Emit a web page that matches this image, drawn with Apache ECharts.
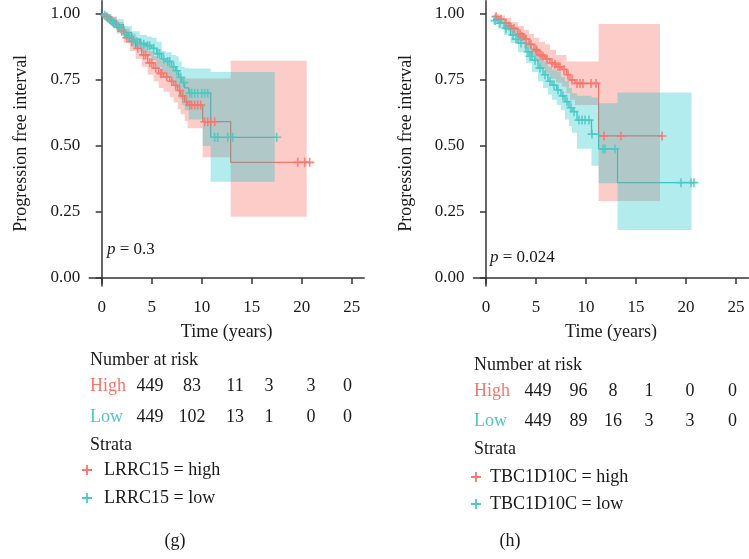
<!DOCTYPE html>
<html>
<head>
<meta charset="utf-8">
<script src="https://cdn.jsdelivr.net/npm/echarts@6/dist/echarts.min.js"></script>
<style>html,body{margin:0;padding:0;background:#fff}#c{width:749px;height:559px}</style>
</head>
<body>
<div id="c"></div>
<script>
// ---------- DATA ----------
const timeTicks = [0, 5, 10, 15, 20, 25];
const survTicks = [0, 0.25, 0.5, 0.75, 1];

// Panel (g): LRRC15
const gHighCurve = [[0,1.0],[0.4,0.99],[0.9,0.975],[1.5,0.95],[2.2,0.92],[2.8,0.895],[3.4,0.87],[4.0,0.845],[4.6,0.815],[5.2,0.795],[5.7,0.775],[6.2,0.762],[6.8,0.745],[7.2,0.73],[7.6,0.71],[7.9,0.69],[8.3,0.668],[8.6,0.655],[10.1,0.592],[12.9,0.438],[20.8,0.438]];
const gHighBand = [[0,0.99,1.0],[0.4,0.975,1.0],[0.9,0.955,0.99],[1.5,0.925,0.97],[2.2,0.89,0.945],[2.8,0.86,0.925],[3.4,0.83,0.905],[4.0,0.80,0.885],[4.6,0.77,0.86],[5.2,0.745,0.84],[5.7,0.72,0.825],[6.2,0.705,0.815],[6.8,0.685,0.80],[7.2,0.665,0.79],[7.6,0.64,0.775],[7.9,0.62,0.76],[8.3,0.595,0.756],[8.6,0.567,0.756],[10.1,0.457,0.756],[12.9,0.232,0.823],[20.5,0.232,0.823]];
const gHighCensor = [[0.5,0.99],[1.0,0.975],[1.2,0.965],[1.7,0.95],[2.0,0.935],[2.5,0.91],[3.0,0.895],[3.6,0.87],[4.2,0.845],[4.4,0.845],[4.8,0.815],[5.0,0.815],[5.4,0.795],[5.9,0.775],[6.0,0.775],[6.5,0.762],[7.0,0.745],[7.4,0.73],[7.8,0.71],[8.1,0.69],[8.5,0.668],[8.8,0.655],[9.0,0.655],[9.3,0.655],[9.6,0.655],[9.9,0.655],[10.3,0.592],[10.6,0.592],[10.9,0.592],[11.3,0.592],[19.6,0.438],[20.3,0.438],[20.8,0.438]];
const gLowCurve = [[0,1.0],[0.4,0.99],[0.9,0.975],[1.4,0.96],[2.2,0.93],[3.0,0.905],[3.8,0.89],[4.5,0.88],[5.0,0.87],[5.5,0.85],[6.0,0.83],[6.4,0.82],[7.0,0.80],[7.4,0.785],[7.7,0.76],[8.0,0.74],[8.3,0.72],[8.7,0.70],[10.9,0.533],[17.5,0.533]];
const gLowBand = [[0,0.99,1.0],[0.5,0.975,1.0],[1.0,0.955,0.99],[1.5,0.94,0.98],[2.2,0.905,0.955],[3.0,0.875,0.935],[3.8,0.855,0.92],[4.5,0.84,0.915],[5.0,0.825,0.91],[5.5,0.80,0.895],[6.0,0.775,0.86],[6.4,0.76,0.855],[7.0,0.74,0.845],[7.4,0.72,0.84],[7.7,0.68,0.82],[8.0,0.655,0.80],[8.3,0.635,0.795],[8.7,0.60,0.794],[10.1,0.50,0.794],[10.9,0.365,0.78],[17.3,0.365,0.78]];
const gLowCensor = [[0.3,0.995],[0.6,0.985],[0.8,0.978],[1.1,0.97],[1.3,0.963],[1.6,0.955],[1.9,0.945],[2.4,0.925],[2.7,0.915],[3.2,0.9],[3.5,0.895],[3.9,0.89],[4.2,0.885],[4.6,0.88],[4.8,0.88],[5.2,0.87],[5.6,0.85],[5.8,0.85],[6.2,0.83],[6.6,0.82],[6.8,0.82],[7.2,0.8],[7.5,0.785],[7.9,0.76],[8.2,0.74],[8.8,0.70],[9.0,0.70],[9.3,0.70],[9.6,0.70],[10.0,0.70],[10.3,0.70],[10.6,0.70],[11.3,0.533],[11.6,0.533],[12.6,0.533],[13.1,0.533],[17.5,0.533]];

// Panel (h): TBC1D10C
const hHighCurve = [[0.8,0.99],[1.3,0.98],[1.9,0.965],[2.5,0.945],[3.2,0.925],[3.8,0.905],[4.3,0.885],[4.8,0.865],[5.3,0.845],[5.9,0.83],[6.4,0.815],[7.0,0.80],[7.6,0.79],[8.05,0.77],[8.4,0.75],[8.9,0.737],[11.26,0.538],[17.6,0.538]];
const hHighBand = [[0.8,0.975,1.0],[1.3,0.965,0.995],[1.9,0.945,0.985],[2.5,0.92,0.97],[3.2,0.895,0.955],[3.8,0.87,0.94],[4.3,0.845,0.925],[4.8,0.82,0.91],[5.3,0.795,0.895],[5.9,0.775,0.885],[6.4,0.755,0.865],[7.0,0.74,0.845],[7.6,0.725,0.845],[8.05,0.70,0.82],[8.4,0.675,0.82],[8.9,0.655,0.82],[11.26,0.292,0.962],[17.4,0.292,0.962]];
const hHighCensor = [[1.0,0.99],[1.5,0.98],[2.0,0.965],[2.3,0.955],[2.8,0.945],[3.4,0.925],[3.6,0.915],[4.0,0.905],[4.5,0.885],[5.0,0.865],[5.1,0.86],[5.5,0.845],[5.7,0.84],[6.1,0.83],[6.6,0.815],[6.9,0.81],[7.2,0.80],[7.4,0.80],[7.8,0.79],[8.2,0.77],[8.6,0.75],[9.1,0.737],[9.4,0.737],[9.7,0.737],[10.5,0.737],[11.0,0.737],[11.8,0.538],[13.5,0.538],[17.6,0.538]];
const hLowCurve = [[0.7,0.98],[1.2,0.965],[1.8,0.945],[2.45,0.92],[3.2,0.89],[4.0,0.857],[4.6,0.825],[5.2,0.795],[5.7,0.77],[6.2,0.745],[6.6,0.73],[7.07,0.712],[7.5,0.69],[7.9,0.668],[8.3,0.645],[8.6,0.63],[9.1,0.598],[10.55,0.545],[11.26,0.489],[13.15,0.361],[20.8,0.361]];
const hLowBand = [[0.7,0.96,0.995],[1.2,0.945,0.985],[1.8,0.92,0.97],[2.45,0.89,0.95],[3.2,0.855,0.925],[4.0,0.815,0.895],[4.6,0.78,0.87],[5.2,0.745,0.845],[5.7,0.72,0.82],[6.2,0.695,0.80],[6.6,0.675,0.79],[7.07,0.655,0.78],[7.5,0.635,0.76],[7.9,0.60,0.745],[8.3,0.575,0.72],[8.6,0.55,0.70],[9.1,0.49,0.69],[10.55,0.425,0.684],[11.26,0.359,0.662],[13.15,0.182,0.703],[20.56,0.182,0.703]];
const hLowCensor = [[0.9,0.975],[1.4,0.965],[2.0,0.945],[2.7,0.92],[3.0,0.905],[3.5,0.89],[4.2,0.857],[4.4,0.84],[4.9,0.825],[5.4,0.795],[5.9,0.77],[6.4,0.745],[6.8,0.73],[7.2,0.712],[7.7,0.69],[8.1,0.668],[8.5,0.645],[8.8,0.63],[9.3,0.598],[9.6,0.598],[9.9,0.598],[10.3,0.598],[10.6,0.545],[11.7,0.489],[11.9,0.489],[12.9,0.489],[19.5,0.361],[20.5,0.361],[20.8,0.361]];

// Number at risk tables
const riskGHigh = [449, 83, 11, 3, 3, 0];
const riskGLow  = [449, 102, 13, 1, 0, 0];
const riskHHigh = [449, 96, 8, 1, 0, 0];
const riskHLow  = [449, 89, 16, 3, 3, 0];

const pValueG = '0.3';
const pValueH = '0.024';
const strataG = ['LRRC15 = high', 'LRRC15 = low'];
const strataH = ['TBC1D10C = high', 'TBC1D10C = low'];
const groupLabels = ['High', 'Low'];
const captions = ['(g)', '(h)'];

// ---------- STYLE / LAYOUT ----------
const RED = '#F8766D', TEAL = '#4CC9C4', TEAL_BAND = '#00BFC4';
const FONT = '"Liberation Serif", "DejaVu Serif", serif';
const TXT = '#1a1a1a';
const colsG = [150, 192, 235, 269, 311, 347.5];
const colsH = [538, 578.5, 613, 649, 690, 732.5];
const plus = 'path://M4.1,0H5.9V4.1H10V5.9H5.9V10H4.1V5.9H0V4.1H4.1Z';

function bandSeries(arr, color, opacity, idx) {
  return {
    type: 'custom', xAxisIndex: idx, yAxisIndex: idx, silent: true, z: 3,
    data: arr, encode: { x: 0, y: [1, 2] },
    renderItem: function (params, api) {
      if (params.dataIndex !== 0) return null;
      const pts = [];
      for (let i = 0; i < arr.length - 1; i++) {
        pts.push(api.coord([arr[i][0], arr[i][2]]), api.coord([arr[i + 1][0], arr[i][2]]));
      }
      for (let i = arr.length - 2; i >= 0; i--) {
        pts.push(api.coord([arr[i + 1][0], arr[i][1]]), api.coord([arr[i][0], arr[i][1]]));
      }
      return { type: 'polygon', shape: { points: pts }, style: { fill: color, opacity: opacity } };
    }
  };
}
function curveSeries(name, arr, color, idx) {
  return { name: name, type: 'line', step: 'end', xAxisIndex: idx, yAxisIndex: idx, data: arr,
    showSymbol: false, symbol: 'none', z: 2, color: color,
    lineStyle: { color: color, width: 1.3 }, silent: true };
}
function censorSeries(arr, color, idx) {
  return { type: 'scatter', xAxisIndex: idx, yAxisIndex: idx, data: arr, symbol: plus, symbolSize: 9,
    itemStyle: { color: color, opacity: 0.9 }, z: 4, silent: true };
}
function xAx(idx) {
  return { gridIndex: idx, type: 'value', min: -1.25, max: 26.25,
    name: 'Time (years)', nameLocation: 'middle', nameGap: 37,
    nameTextStyle: { fontFamily: FONT, fontSize: 18, color: TXT },
    axisLine: { lineStyle: { color: '#333', width: 1.5 } },
    axisTick: { customValues: timeTicks, length: 6, lineStyle: { color: '#333', width: 1.5 } },
    axisLabel: { customValues: timeTicks, margin: 13, fontFamily: FONT, fontSize: 17, color: TXT },
    splitLine: { show: false } };
}
function yAx(idx, gap) {
  return { gridIndex: idx, type: 'value', min: -0.03, max: 1.05,
    name: 'Progression free interval', nameLocation: 'middle', nameGap: gap,
    nameTextStyle: { fontFamily: FONT, fontSize: 18, color: TXT },
    axisLine: { lineStyle: { color: '#333', width: 1.5 } },
    axisTick: { customValues: survTicks, length: 6, lineStyle: { color: '#333', width: 1.5 } },
    axisLabel: { customValues: survTicks, margin: 9, fontFamily: FONT, fontSize: 17, color: TXT,
      formatter: v => v.toFixed(2) },
    splitLine: { show: false } };
}
function txt(x, y, s, opts) {
  return Object.assign({ type: 'text', x: x, y: y, silent: true,
    style: Object.assign({ text: s, fontFamily: FONT, fontSize: 18, fill: TXT, align: 'left', verticalAlign: 'middle' }, opts || {}) });
}

const graphics = [];
function table(x0, yTitle, yHigh, yLow, yStrata, cols, hi, lo) {
  graphics.push(txt(x0, yTitle, 'Number at risk'));
  graphics.push(txt(x0, yHigh, groupLabels[0], { fill: RED }));
  graphics.push(txt(x0, yLow, groupLabels[1], { fill: TEAL }));
  hi.forEach((v, i) => graphics.push(txt(cols[i], yHigh, String(v), { align: 'center' })));
  lo.forEach((v, i) => graphics.push(txt(cols[i], yLow, String(v), { align: 'center' })));
  graphics.push(txt(x0, yStrata, 'Strata'));
}
table(90, 360, 386.7, 417.7, 445, colsG, riskGHigh, riskGLow);
table(474, 365, 391.7, 421, 449.3, colsH, riskHHigh, riskHLow);
const pRich = { i: { fontStyle: 'italic', fontFamily: FONT, fontSize: 17, fill: TXT }, n: { fontFamily: FONT, fontSize: 17, fill: TXT } };
graphics.push({ type: 'text', x: 107, y: 250, silent: true, style: { text: '{i|p}{n| = ' + pValueG + '}', rich: pRich, verticalAlign: 'middle' } });
graphics.push({ type: 'text', x: 490, y: 258, silent: true, style: { text: '{i|p}{n| = ' + pValueH + '}', rich: pRich, verticalAlign: 'middle' } });
graphics.push(txt(175, 541.7, captions[0], { align: 'center' }));
graphics.push(txt(510, 541.7, captions[1], { align: 'center' }));

const legendBase = { orient: 'vertical', itemHeight: 10, icon: plus,
  textStyle: { fontFamily: FONT, fontSize: 18, color: TXT }, selectedMode: false, padding: 0 };

const option = {
  animation: false,
  backgroundColor: '#fff',
  grid: [
    { left: 89.2, top: 0.8, width: 275, height: 285.1 },
    { left: 473.5, top: 0.8, width: 275, height: 285.1 }
  ],
  xAxis: [xAx(0), xAx(1)],
  yAxis: [yAx(0, 59), yAx(1, 58)],
  legend: [
    Object.assign({}, legendBase, { left: 82, top: 461, itemWidth: 24, itemGap: 10, data: strataG }),
    Object.assign({}, legendBase, { left: 471, top: 468, itemWidth: 18, itemGap: 9, data: strataH })
  ],
  series: [
    curveSeries(strataG[0], gHighCurve, RED, 0),
    curveSeries(strataG[1], gLowCurve, TEAL, 0),
    bandSeries(gHighBand, RED, 0.37, 0),
    bandSeries(gLowBand, TEAL_BAND, 0.3, 0),
    censorSeries(gHighCensor, RED, 0),
    censorSeries(gLowCensor, TEAL, 0),
    curveSeries(strataH[0], hHighCurve, RED, 1),
    curveSeries(strataH[1], hLowCurve, TEAL, 1),
    bandSeries(hHighBand, RED, 0.37, 1),
    bandSeries(hLowBand, TEAL_BAND, 0.3, 1),
    censorSeries(hHighCensor, RED, 1),
    censorSeries(hLowCensor, TEAL, 1)
  ],
  graphic: graphics
};
const chart = echarts.init(document.getElementById('c'), null, { renderer: 'canvas' });
chart.setOption(option);
</script>
</body>
</html>
